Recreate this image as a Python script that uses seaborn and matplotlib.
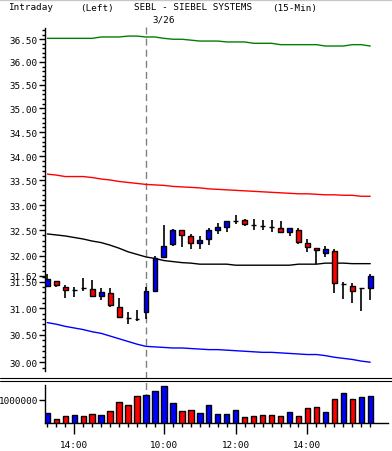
import numpy as np
import pandas as pd
import matplotlib
matplotlib.use("Agg")
import matplotlib.pyplot as plt
import matplotlib.ticker as mticker
import matplotlib.transforms as mtransforms
from matplotlib.lines import Line2D
import seaborn as sns

# 15-minute bars, 3/25 afternoon then the full 3/26 session
times = ["13:15", "13:30", "13:45", "14:00", "14:15", "14:30", "14:45", "15:00", "15:15", "15:30", "15:45",
         "09:30", "09:45", "10:00", "10:15", "10:30", "10:45", "11:00", "11:15", "11:30", "11:45",
         "12:00", "12:15", "12:30", "12:45", "13:00", "13:15", "13:30", "13:45", "14:00", "14:15",
         "14:30", "14:45", "15:00", "15:15", "15:30", "15:45"]
session_start = 11
session_date = "3/26"
labelled_times = ["10:00", "12:00", "14:00"]

open_ = [31.42, 31.51, 31.41, 31.35, 31.39, 31.37, 31.23, 31.28, 31.03, 30.81, 30.79,
         30.92, 31.33, 31.97, 32.23, 32.50, 32.38, 32.25, 32.33, 32.51, 32.56,
         32.68, 32.70, 32.60, 32.59, 32.56, 32.55, 32.47, 32.51, 32.25, 32.15,
         32.06, 32.09, 31.46, 31.43, 31.38, 31.38]
high = [31.65, 31.52, 31.44, 31.41, 31.57, 31.53, 31.38, 31.38, 31.19, 30.92, 30.97,
        31.41, 32.00, 32.61, 32.52, 32.51, 32.43, 32.39, 32.55, 32.65, 32.69,
        32.80, 32.72, 32.73, 32.70, 32.70, 32.68, 32.55, 32.55, 32.34, 32.16,
        32.19, 32.13, 31.50, 31.47, 31.39, 31.66]
low = [31.41, 31.41, 31.20, 31.22, 31.33, 31.21, 31.15, 31.03, 30.81, 30.70, 30.76,
       30.79, 31.31, 31.95, 32.20, 32.18, 32.13, 32.13, 32.21, 32.43, 32.46,
       32.62, 32.59, 32.51, 32.51, 32.47, 32.46, 32.39, 32.24, 32.08, 31.84,
       31.98, 31.28, 31.18, 31.09, 30.95, 31.16]
close = [31.55, 31.44, 31.34, 31.35, 31.39, 31.23, 31.30, 31.06, 30.84, 30.81, 30.79,
         31.32, 31.96, 32.20, 32.50, 32.40, 32.26, 32.32, 32.51, 32.56, 32.68,
         32.68, 32.62, 32.60, 32.59, 32.56, 32.47, 32.54, 32.28, 32.17, 32.11,
         32.13, 31.47, 31.46, 31.33, 31.38, 31.62]
volume = [0.42, 0.16, 0.29, 0.33, 0.29, 0.37, 0.33, 0.50, 0.89, 0.76, 1.15,
          1.19, 1.36, 1.58, 0.85, 0.50, 0.55, 0.42, 0.76, 0.37, 0.37,
          0.55, 0.24, 0.29, 0.33, 0.33, 0.29, 0.46, 0.29, 0.63, 0.67,
          0.46, 1.02, 1.27, 1.02, 1.10, 1.15]  # millions
vol_up = [1, 0, 0, 1, 0, 0, 1, 0, 0, 0, 0,
          1, 1, 1, 1, 0, 0, 1, 1, 1, 1,
          1, 0, 0, 0, 0, 0, 1, 0, 0, 0,
          1, 0, 1, 0, 1, 1]

# envelope lines
band_green = [36.52, 36.52, 36.52, 36.52, 36.52, 36.52, 36.55, 36.55, 36.55, 36.57, 36.57,
              36.55, 36.55, 36.52, 36.50, 36.50, 36.48, 36.46, 36.46, 36.46, 36.44,
              36.44, 36.44, 36.41, 36.41, 36.41, 36.38, 36.38, 36.38, 36.38, 36.38,
              36.35, 36.35, 36.35, 36.38, 36.38, 36.35]
band_red = [33.63, 33.61, 33.58, 33.58, 33.58, 33.56, 33.53, 33.51, 33.48, 33.46, 33.44,
            33.42, 33.41, 33.40, 33.38, 33.37, 33.36, 33.35, 33.33, 33.32, 33.31,
            33.30, 33.29, 33.28, 33.27, 33.26, 33.25, 33.24, 33.23, 33.23, 33.22,
            33.21, 33.21, 33.20, 33.20, 33.18, 33.18]
band_mid = [32.43, 32.41, 32.39, 32.36, 32.33, 32.29, 32.26, 32.21, 32.15, 32.08, 32.03,
            31.98, 31.95, 31.91, 31.89, 31.87, 31.86, 31.84, 31.84, 31.84, 31.84,
            31.82, 31.82, 31.82, 31.82, 31.82, 31.82, 31.82, 31.84, 31.84, 31.84,
            31.86, 31.86, 31.86, 31.85, 31.85, 31.85]
band_blue = [30.73, 30.70, 30.66, 30.63, 30.60, 30.56, 30.53, 30.48, 30.43, 30.38, 30.33,
             30.29, 30.28, 30.27, 30.26, 30.26, 30.25, 30.24, 30.23, 30.23, 30.22,
             30.21, 30.20, 30.19, 30.18, 30.18, 30.17, 30.16, 30.15, 30.14, 30.14,
             30.12, 30.09, 30.07, 30.05, 30.02, 30.00]
last_price = 31.62

df = pd.DataFrame({"time": times, "open": open_, "high": high, "low": low,
                   "close": close, "volume": np.array(volume) * 1e6,
                   "up": vol_up, "green": band_green, "red": band_red,
                   "mid": band_mid, "blue": band_blue})
df["idx"] = np.arange(len(df))

sns.set_style("white")
plt.rcParams["font.family"] = ["DejaVu Sans Mono"]
plt.rcParams["font.size"] = 6.7
for k in ["text.color", "xtick.color", "ytick.color", "axes.labelcolor"]:
    plt.rcParams[k] = "black"

W, H = 392, 452
fig = plt.figure(figsize=(W / 100, H / 100), dpi=100)
ax = fig.add_axes([45 / W, 1 - 372 / H, 343 / W, 343 / H])
axv = fig.add_axes([45 / W, 1 - 424 / H, 343 / W, 38 / H])
for a in (ax, axv):
    a.set_facecolor("none")

# bands
for col, c in [("green", "#008000"), ("red", "#ff0000"), ("mid", "black"), ("blue", "#0000ff")]:
    sns.lineplot(data=df, x="idx", y=col, ax=ax, color=c, lw=1.0, zorder=2)

# candles
ax.vlines(df["idx"], df["low"], df["high"], color="black", lw=1.2, zorder=3)
body_lo = np.minimum(df["open"], df["close"])
body_h = (df["close"] - df["open"]).abs()
body_col = np.where(df["close"] > df["open"], "#0000ff",
                    np.where(df["close"] < df["open"], "#ff0000", "black"))
ax.bar(df["idx"], body_h, bottom=body_lo, width=0.55, color=body_col,
       edgecolor="black", lw=1.0, zorder=4)

ax.set_yscale("log")
ax.set_ylim(29.84, 36.75)
ax.set_xlim(-0.26, 37.98)
major = list(np.arange(30.0, 36.51, 0.5)) + [last_price]
ax.yaxis.set_major_locator(mticker.FixedLocator(major))
ax.yaxis.set_minor_locator(mticker.FixedLocator(np.arange(29.9, 36.75, 0.1)))
ax.yaxis.set_major_formatter(mticker.FormatStrFormatter("%.2f"))
ax.yaxis.set_minor_formatter(mticker.NullFormatter())
ax.tick_params(axis="y", which="major", direction="out", length=4, width=1, pad=1, left=True)
ax.tick_params(axis="y", which="minor", direction="out", length=2, width=1, left=True)
ax.set_xticks([])
ax.set_xlabel("")
ax.set_ylabel("")
for s in ["top", "right", "bottom"]:
    ax.spines[s].set_visible(False)
ax.spines["left"].set_color("black")
ax.spines["left"].set_linewidth(1)

# volume
df["dir"] = np.where(df["up"] == 1, "up", "down")
sns.barplot(data=df, x="idx", y="volume", hue="dir", ax=axv, native_scale=True,
            palette={"up": "#0000ff", "down": "#ff0000"}, dodge=False, width=0.6,
            saturation=1, edgecolor="black", linewidth=1.0, legend=False, zorder=3)
axv.set_xlim(-0.26, 37.98)
axv.set_ylim(0, 1.63e6)
axv.set_yticks([1e6])
axv.set_yticklabels(["1000000"])
axv.tick_params(axis="y", direction="out", length=4, width=1, pad=1, left=True)
lab_idx = [i for i, t in enumerate(times) if t in labelled_times or (i == 3)]
axv.set_xticks(lab_idx)
axv.set_xticklabels([times[i] for i in lab_idx])
axv.set_xticks(df["idx"], minor=True)
axv.tick_params(axis="x", which="major", direction="out", length=8, width=1, pad=4, bottom=True)
axv.tick_params(axis="x", which="minor", direction="out", length=3, width=1, bottom=True)
axv.set_xlabel("")
axv.set_ylabel("")
for s in ["top", "right"]:
    axv.spines[s].set_visible(False)
for s in ["left", "bottom"]:
    axv.spines[s].set_color("black")
    axv.spines[s].set_linewidth(1)

# session divider, behind everything
tr = mtransforms.blended_transform_factory(ax.transData, fig.transFigure)
fig.add_artist(Line2D([session_start, session_start], [1 - 28 / H, 1 - 424 / H], transform=tr,
                      color="#808080", lw=1, ls=(0, (5, 3)), zorder=-1))
# panel separator
for yy in (379, 381.8):
    fig.add_artist(Line2D([0, 1], [1 - yy / H] * 2, transform=fig.transFigure, color="black", lw=0.8))
fig.add_artist(Line2D([0, 1], [1 - 0.5 / H] * 2, transform=fig.transFigure, color="#c8c8c8", lw=1))

# header
fig.text(8 / W, 1 - 8 / H, "Intraday", va="center", ha="left")
fig.text(80 / W, 1 - 8 / H, "(Left)", va="center", ha="left")
fig.text(134 / W, 1 - 8 / H, "SEBL - SIEBEL SYSTEMS", va="center", ha="left")
fig.text(272 / W, 1 - 8 / H, "(15-Min)", va="center", ha="left")
fig.text(152 / W, 1 - 20 / H, session_date, va="center", ha="left")

fig.savefig("out.png", dpi=100, facecolor="white")
